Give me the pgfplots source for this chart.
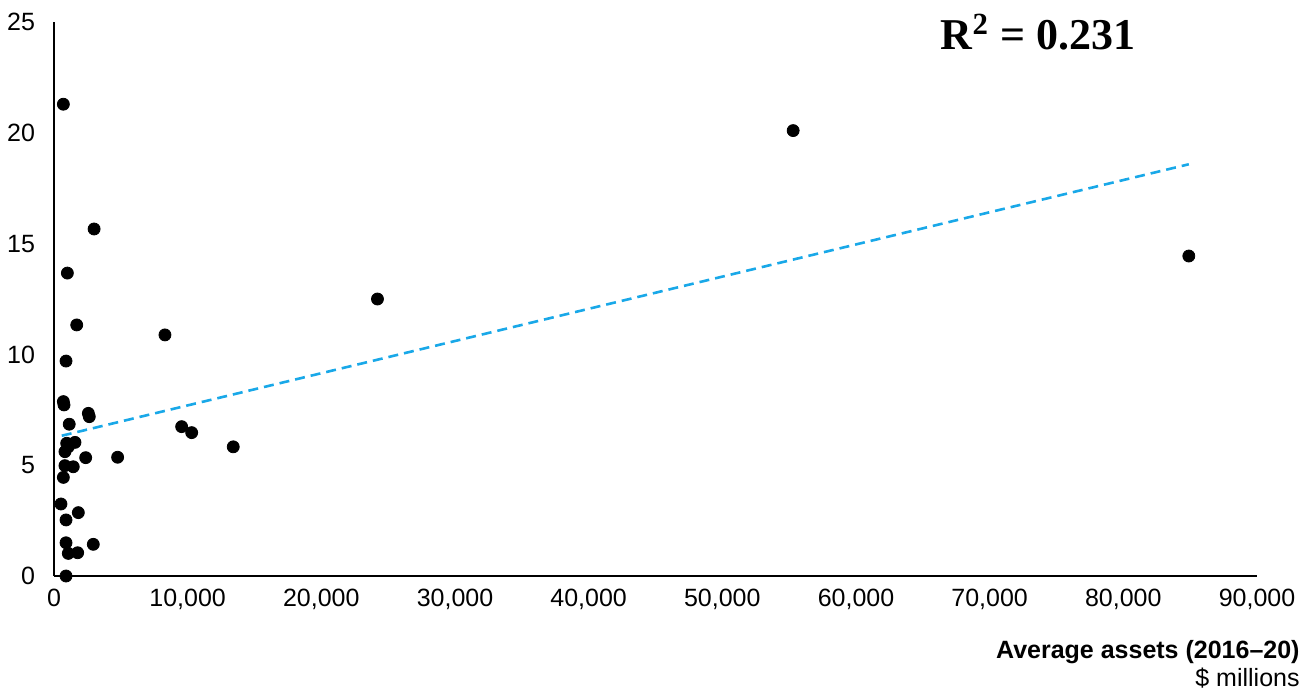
\documentclass[border=0pt]{standalone}
\usepackage{fontspec}
\setmainfont{Liberation Sans}
\newfontfamily\rfont{Liberation Serif}
\usepackage{pgfplots}
\pgfplotsset{compat=1.18}
\definecolor{trendblue}{RGB}{25,168,232}

\begin{document}
\begin{tikzpicture}
\begin{axis}[
    at={(0,0)}, anchor=south west,
    scale only axis,
    width=601.5pt,
    height=277pt,
    xmin=0, xmax=90000,
    ymin=0, ymax=25,
    axis lines=left,
    axis line style={-, line width=0.6pt},
    xtick={0,10000,...,90000},
    ytick={0,5,...,25},
    major tick length=0pt,
    scaled x ticks=false,
    /pgf/number format/assume math mode=true,
    /pgf/number format/1000 sep={,},
    ticklabel style={font=\fontsize{12.5}{14}\selectfont},
    xticklabel style={yshift=-3pt},
    yticklabel style={xshift=-6pt},
    clip=false,
]
% trend line
\addplot[trendblue, line width=1.3pt, dash pattern=on 5pt off 3pt] coordinates {
    (580,6.33) (84900,18.58)
};
% firms
\addplot[only marks, mark=*, mark size=3pt, black] coordinates {
    (700,21.29) (55300,20.1) (3000,15.66) (84900,14.44) (1000,13.67)
    (24200,12.5) (1700,11.33) (8300,10.88) (900,9.7)
    (700,7.87) (750,7.72) (2570,7.34) (2640,7.19) (1140,6.85)
    (9550,6.74) (10300,6.47) (13410,5.83) (950,5.99) (1570,6.03)
    (820,5.61) (1070,5.83) (4760,5.36) (2370,5.34) (820,4.98)
    (1440,4.93) (700,4.45) (520,3.25) (1820,2.86) (900,2.53)
    (900,1.5) (2940,1.43) (1070,1.02) (1770,1.05) (900,0)
};
\end{axis}
\node[font=\rfont\bfseries\fontsize{22}{24}\selectfont] at (492pt,272pt) {R\textsuperscript{2} = 0.231};
\node[anchor=east, font=\bfseries\fontsize{12.5}{14}\selectfont, inner sep=0pt] at (623pt,-38pt) {Average assets (2016–20)};
\node[anchor=east, font=\fontsize{12.5}{14}\selectfont, inner sep=0pt] at (623pt,-51pt) {\$ millions};
\path[use as bounding box] (-27pt,-61pt) rectangle (629pt,288pt);
\end{tikzpicture}
\end{document}
